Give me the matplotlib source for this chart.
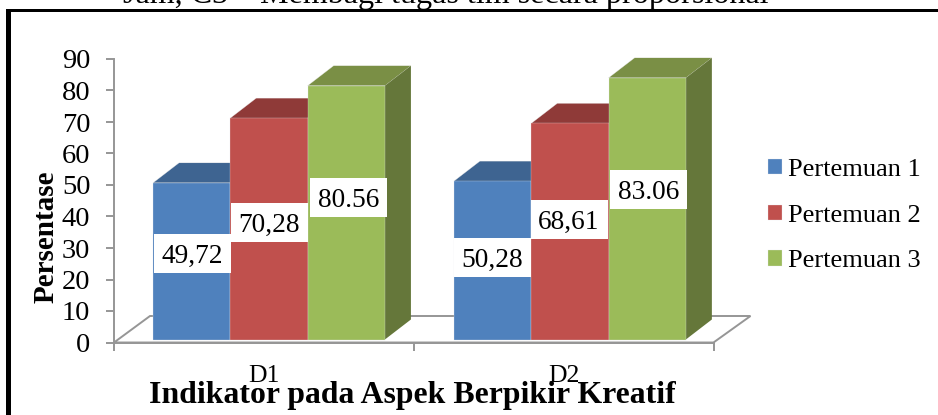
import matplotlib
matplotlib.use("Agg")
import matplotlib.pyplot as plt
from matplotlib.patches import Polygon, Rectangle

plt.rcParams['font.family'] = ['Liberation Serif', 'DejaVu Serif']

# data
categories = ['D1', 'D2']
series_names = ['Pertemuan 1', 'Pertemuan 2', 'Pertemuan 3']
values = [[49.72, 50.28], [70.28, 68.61], [80.56, 83.06]]
value_labels = [['49,72', '50,28'], ['70,28', '68,61'], ['80.56', '83.06']]
# data label heights, they were dragged by hand in the original
label_heights = [[28.2, 27.0], [38.2, 39.0], [46.0, 48.6]]
y_ticks = [0, 10, 20, 30, 40, 50, 60, 70, 80, 90]

front_colors = ['#4F81BD', '#C0504D', '#9BBB59']
top_colors = ['#3E6491', '#8F3A38', '#7A8F45']
side_colors = ['#375A85', '#863735', '#65773A']
axis_color = '#969696'

W, H = 938, 415
fig = plt.figure(figsize=(W / 100, H / 100), dpi=100)
ax = fig.add_axes([114 / W, (H - 342.5) / H, 599.5 / W, 283.5 / H])
ax.set_xlim(0, 2)
ax.set_ylim(0, 90)

# 3d look
px_x = 2 / 599.5
px_y = 90 / 283.5
bar_w = 77.3 * px_x
depth_x = 26 * px_x
depth_y = 20 * px_y
base = 3 * px_y
group_shift = [0.017, 0.021]

# floor
floor = Polygon([(0, 0), (2, 0), (2 + 37 * px_x, 26.5 * px_y), (36 * px_x, 26.5 * px_y)],
                closed=True, fill=False, edgecolor=axis_color, lw=1.4, clip_on=False, zorder=1)
ax.add_patch(floor)

handles = []
for s, name in enumerate(series_names):
    for g in range(len(categories)):
        left = g + 0.5 + group_shift[g] + (s - 1.5) * bar_w
        top = base + values[s][g]
        # top face
        ax.add_patch(Polygon([(left, top), (left + bar_w, top),
                              (left + bar_w + depth_x, top + depth_y), (left + depth_x, top + depth_y)],
                             closed=True, facecolor=top_colors[s], edgecolor='#E6E6E6', lw=0.2,
                             clip_on=False, zorder=2 + s))
        # side face, only the last one in the group shows
        ax.add_patch(Polygon([(left + bar_w, base), (left + bar_w + depth_x, base + depth_y),
                              (left + bar_w + depth_x, top + depth_y), (left + bar_w, top)],
                             closed=True, facecolor=side_colors[s], edgecolor='none',
                             clip_on=False, zorder=2 + s))
    lefts = [g + 0.5 + group_shift[g] + (s - 1) * bar_w for g in range(len(categories))]
    bars = ax.bar(lefts, values[s], width=bar_w, bottom=base, color=front_colors[s],
                  edgecolor='#E4E8EE', linewidth=0.2, label=name, zorder=2.5 + s, clip_on=False)
    handles.append(bars)

# data labels
for s in range(len(series_names)):
    for g in range(len(categories)):
        cx = g + 0.5 + 0.018 + (s - 1) * bar_w + [0.002, 0.0, 0.007][s]
        cy = label_heights[s][g]
        ax.add_patch(Rectangle((cx - 38.5 * px_x, cy - 19.5 * px_y), 77 * px_x, 39 * px_y,
                               facecolor='white', edgecolor='none', zorder=8))
        ax.text(cx, cy, value_labels[s][g], ha='center', va='center_baseline', fontsize=19.7, zorder=9)

# axes
for side in ['top', 'right']:
    ax.spines[side].set_visible(False)
for side in ['left', 'bottom']:
    ax.spines[side].set_color(axis_color)
    ax.spines[side].set_linewidth(1.4)
ax.patch.set_alpha(0)
ax.set_yticks(y_ticks)
ax.tick_params(axis='y', colors=axis_color, labelcolor='black', labelsize=20.5, width=1.4, length=6, pad=11)
ax.set_xticks([0, 1, 2])
ax.set_xticklabels([])
ax.tick_params(axis='x', which='major', color=axis_color, width=1.4, length=6)
ax.set_xticks([0.5, 1.5], categories, minor=True)
ax.tick_params(axis='x', which='minor', length=0, labelsize=18.5, pad=16)

fig.text(46 / W, 1 - 237 / H, 'Persentase', rotation=90, ha='center', va='center',
         fontsize=21, fontweight='bold')
fig.text(412.5 / W, 1 - 403 / H, 'Indikator pada Aspek Berpikir Kreatif', ha='center', va='baseline',
         fontsize=22.9, fontweight='bold')

ax.legend(handles=handles, labels=series_names, loc='upper left',
          bbox_to_anchor=(760 / W, 1 - 151 / H), bbox_transform=fig.transFigure,
          frameon=False, fontsize=19, handlelength=0.53, handleheight=0.53,
          handletextpad=0.23, labelspacing=0.89, borderaxespad=0, borderpad=0.3)

# page text and frame around the chart
fig.text(446 / W, 1 - 3.5 / H, 'Jam, C3 \u2013 Membagi tugas tim secara proporsional', ha='center', va='baseline',
         fontsize=23.1)
fig.add_artist(Rectangle((6 / W, -0.1), 5 / W, 1 - 9 / H + 0.1, transform=fig.transFigure,
                         facecolor='black', edgecolor='none'))
fig.add_artist(Rectangle((6 / W, 1 - 12 / H), 1, 3 / H, transform=fig.transFigure,
                         facecolor='black', edgecolor='none'))

fig.savefig('out.png', dpi=100)
